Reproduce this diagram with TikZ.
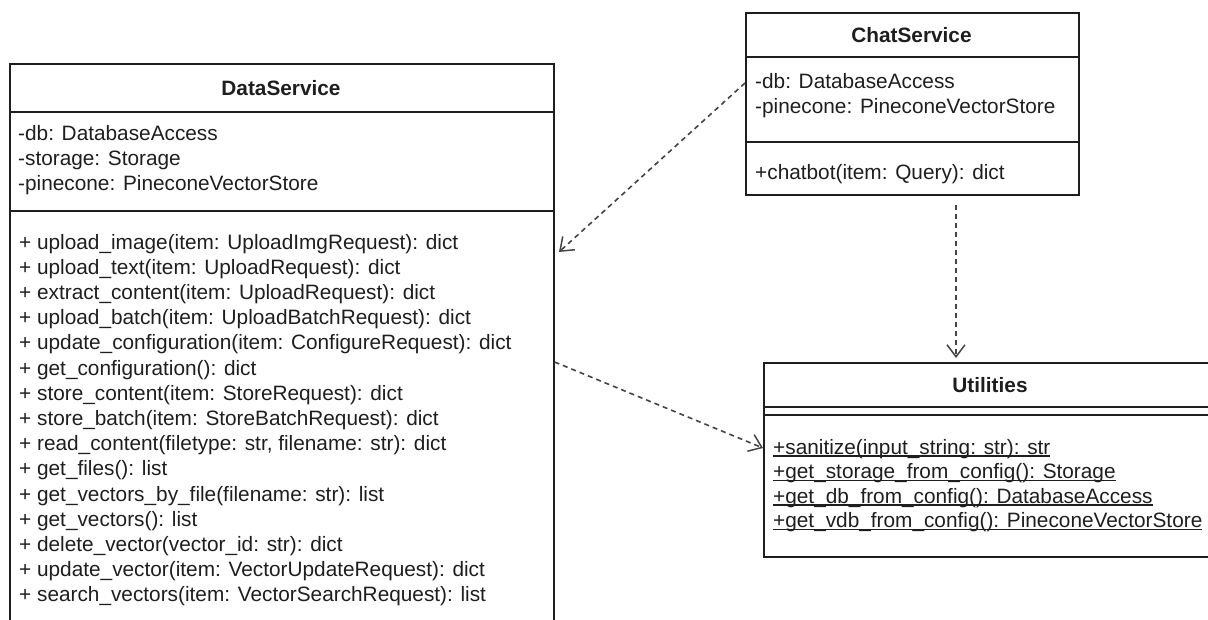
\documentclass[tikz,border=0pt]{standalone}
\usepackage{fontspec}
\setmainfont{Liberation Sans}
\usetikzlibrary{arrows.meta}

% underline drawn at a fixed height, crossing the descenders
\newcommand\ulfix[1]{\leavevmode\setbox0\hbox{#1}\rlap{\rule[-2.6pt]{\wd0}{1.3pt}}\box0}

\definecolor{ink}{HTML}{1E1E1E}
\definecolor{dash}{HTML}{444444}

\tikzset{
  classbox/.style={draw=ink, line width=1.6pt, rectangle, inner sep=0pt, anchor=north west},
  divider/.style={draw=ink, line width=1.6pt},
  title/.style={font=\fontsize{20.8pt}{25pt}\selectfont\bfseries, text=ink, inner sep=0pt, anchor=base},
  member/.style={font=\fontsize{20.8pt}{25pt}\selectfont, text=ink, inner sep=0pt, anchor=base west},
  depends/.style={draw=dash, line width=1.6pt, dash pattern=on 5pt off 4pt,
    -{Straight Barb[length=12pt, width=18pt, line width=1.5pt]}},
}

\begin{document}
\begin{tikzpicture}[x=1pt, y=-1pt]
\useasboundingbox (0,0) rectangle (1208,619);

% ---------- DataService ----------
\node[classbox, minimum width=544pt, minimum height=600pt] (data) at (9,63) {};
\draw[divider] (data.west |- 0,112) -- (data.east |- 0,112);
\draw[divider] (data.west |- 0,211) -- (data.east |- 0,211);
\node[title] (dtitle) at (281,95) {DataService};
\node[member] (da1) at (18,140) {-db: DatabaseAccess};
\node[member] (da2) at (18,165) {-storage: Storage};
\node[member] (da3) at (18,190) {-pinecone: PineconeVectorStore};
\foreach \m [count=\i] in {
  {+ upload\_image(item: UploadImgRequest): dict},
  {+ upload\_text(item: UploadRequest): dict},
  {+ extract\_content(item: UploadRequest): dict},
  {+ upload\_batch(item: UploadBatchRequest): dict},
  {+ update\_configuration(item: ConfigureRequest): dict},
  {+ get\_configuration(): dict},
  {+ store\_content(item: StoreRequest): dict},
  {+ store\_batch(item: StoreBatchRequest): dict},
  {+ read\_content(filetype: str, filename: str): dict},
  {+ get\_files(): list},
  {+ get\_vectors\_by\_file(filename: str): list},
  {+ get\_vectors(): list},
  {+ delete\_vector(vector\_id: str): dict},
  {+ update\_vector(item: VectorUpdateRequest): dict},
  {+ search\_vectors(item: VectorSearchRequest): list}}
  \node[member] (dm\i) at (19,{249+25.2*(\i-1)}) {\m};

% ---------- ChatService ----------
\node[classbox, minimum width=333pt, minimum height=182pt] (chat) at (745,12) {};
\draw[divider] (chat.west |- 0,57) -- (chat.east |- 0,57);
\draw[divider] (chat.west |- 0,142) -- (chat.east |- 0,142);
\node[title] (ctitle) at (911.5,42) {ChatService};
\node[member] (ca1) at (755,88) {-db: DatabaseAccess};
\node[member] (ca2) at (755,113) {-pinecone: PineconeVectorStore};
\node[member] (cm1) at (755,179) {+chatbot(item: Query): dict};

% ---------- Utilities ----------
\node[classbox, minimum width=453pt, minimum height=194pt] (util) at (763,362) {};
\draw[divider] (util.west |- 0,407) -- (util.east |- 0,407);
\draw[divider] (util.west |- 0,415) -- (util.east |- 0,415);
\node[title] (utitle) at (990,392) {Utilities};
\node[member] (um1) at (773,454) {\ulfix{+sanitize(input\_string: str): str}};
\node[member] (um2) at (773,478.5) {\ulfix{+get\_storage\_from\_config(): Storage}};
\node[member] (um3) at (773,503) {\ulfix{+get\_db\_from\_config(): DatabaseAccess}};
\node[member] (um4) at (773,527.5) {\ulfix{+get\_vdb\_from\_config(): PineconeVectorStore}};

% ---------- dependencies ----------
\coordinate (chatOut) at (chat.west |- 0,83);
\coordinate (dataIn) at (559,252);
\coordinate (dataOut) at (data.east |- 0,362);
\coordinate (utilIn) at (util.west |- 0,448);
\coordinate (chatDown) at (956,205);
\coordinate (utilTop) at (956,358);

\draw[depends] (chatOut) -- (dataIn);
\draw[depends] (dataOut) -- (utilIn);
\draw[depends] (chatDown) -- (utilTop);
\end{tikzpicture}
\end{document}
